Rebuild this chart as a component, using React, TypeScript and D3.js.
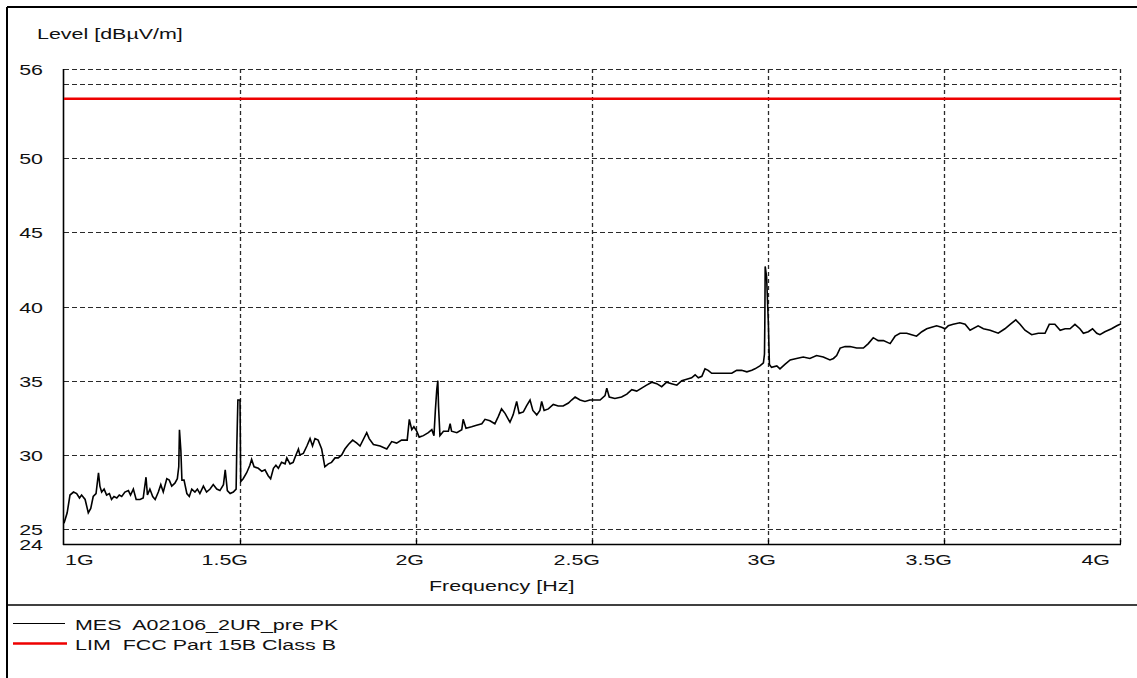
import React from "react";
import * as d3 from "d3";

// ---- data ----
const freqGHz: number[] = [
  1.000, 1.009, 1.017, 1.027, 1.036, 1.044, 1.050, 1.060, 1.069, 1.076,
  1.083, 1.091, 1.098, 1.102, 1.107, 1.114, 1.121, 1.129, 1.135, 1.142,
  1.150, 1.157, 1.164, 1.173, 1.183, 1.189, 1.197, 1.205, 1.216, 1.225,
  1.233, 1.237, 1.244, 1.252, 1.259, 1.268, 1.275, 1.282, 1.292, 1.299,
  1.306, 1.315, 1.322, 1.326, 1.328, 1.332, 1.335, 1.341, 1.349, 1.356,
  1.363, 1.372, 1.379, 1.386, 1.396, 1.405, 1.415, 1.424, 1.434, 1.443,
  1.453, 1.458, 1.464, 1.472, 1.481, 1.489, 1.491, 1.494, 1.500, 1.502,
  1.509, 1.519, 1.528, 1.533, 1.540, 1.552, 1.562, 1.571, 1.580, 1.587,
  1.595, 1.602, 1.609, 1.618, 1.628, 1.633, 1.642, 1.651, 1.659, 1.666,
  1.670, 1.680, 1.690, 1.699, 1.706, 1.713, 1.722, 1.732, 1.741, 1.751,
  1.760, 1.770, 1.779, 1.789, 1.798, 1.808, 1.820, 1.832, 1.841,
  1.860, 1.867, 1.879, 1.898, 1.917, 1.931, 1.945, 1.959, 1.975, 1.981,
  1.988, 1.994, 2.002, 2.009, 2.021, 2.035, 2.045, 2.051, 2.055, 2.059,
  2.062, 2.064, 2.068, 2.078, 2.092, 2.097, 2.101, 2.116, 2.130, 2.134,
  2.142, 2.158, 2.172, 2.187, 2.196, 2.210, 2.224, 2.234, 2.243, 2.253,
  2.267, 2.276, 2.286, 2.293, 2.305, 2.314, 2.324, 2.332, 2.343, 2.352,
  2.357, 2.364, 2.376, 2.390, 2.404, 2.418, 2.433, 2.442, 2.452, 2.466,
  2.480, 2.494, 2.509,
  2.523, 2.537, 2.542, 2.549, 2.565, 2.584, 2.599, 2.613, 2.627, 2.641,
  2.655, 2.670, 2.684, 2.698, 2.712, 2.726, 2.741, 2.755, 2.769, 2.783,
  2.793, 2.802, 2.812, 2.821, 2.830, 2.840, 2.859, 2.878, 2.897, 2.911,
  2.925, 2.940, 2.954, 2.963, 2.977, 2.987, 2.990, 2.991, 2.992, 2.996,
  3.001, 3.004, 3.010, 3.025, 3.034, 3.048, 3.063, 3.081, 3.100, 3.119,
  3.138, 3.157, 3.176, 3.186, 3.195, 3.205, 3.219,
  3.233, 3.252, 3.271, 3.285, 3.299, 3.313, 3.328, 3.347, 3.361, 3.375,
  3.394, 3.408, 3.422, 3.437, 3.451, 3.465, 3.479, 3.493, 3.503, 3.512,
  3.526, 3.545, 3.560, 3.574, 3.597, 3.612, 3.631, 3.654, 3.673, 3.688,
  3.704, 3.716, 3.730, 3.749, 3.768, 3.787, 3.799, 3.815, 3.830, 3.844,
  3.858, 3.872, 3.886, 3.896, 3.910, 3.922, 3.934, 3.943, 3.957, 3.976,
  3.991, 4.000,
];

const levelDb: number[] = [
  25.4, 26.1, 27.3, 27.5, 27.4, 27.1, 27.3, 27.0, 26.1, 26.4,
  27.2, 27.4, 28.8, 27.9, 27.5, 27.7, 27.3, 27.4, 27.0, 27.2,
  27.1, 27.3, 27.2, 27.5, 27.6, 27.3, 27.7, 27.0, 27.0, 27.1,
  28.5, 27.3, 27.7, 27.2, 27.0, 27.5, 28.0, 27.5, 28.4, 28.3,
  27.9, 28.1, 28.4, 29.2, 31.7, 30.3, 28.3, 28.3, 27.4, 27.2,
  27.7, 27.5, 27.7, 27.4, 27.9, 27.5, 27.7, 28.0, 27.7, 27.6,
  28.0, 29.0, 27.6, 27.4, 27.5, 27.7, 30.7, 33.7, 33.7, 28.2,
  28.4, 28.8, 29.3, 29.7, 29.2, 29.1, 28.9, 29.0, 28.6, 28.4,
  29.1, 29.3, 29.1, 29.5, 29.4, 29.8, 29.4, 29.5, 30.0, 30.4,
  30.0, 30.1, 30.6, 31.1, 30.6, 31.1, 31.0, 30.4, 29.2, 29.4,
  29.5, 29.8, 29.8, 30.0, 30.4, 30.7, 31.0, 30.8, 30.6,
  31.5, 31.1, 30.7, 30.6, 30.4, 30.9, 30.8, 31.0, 31.0, 32.4,
  31.7, 31.9, 31.6, 31.2, 31.3, 31.5, 31.7, 31.3, 33.0, 34.4,
  35.0, 33.3, 31.3, 31.6, 31.6, 32.1, 31.6, 31.5, 31.7, 32.4,
  31.8, 31.9, 32.0, 32.1, 32.4, 32.3, 32.1, 32.6, 33.1, 32.8,
  32.2, 32.7, 33.6, 32.8, 32.9, 33.3, 33.7, 33.0, 32.7, 33.0,
  33.6, 33.0, 33.1, 33.4, 33.3, 33.3, 33.5, 33.7, 33.9, 33.7,
  33.6, 33.7, 33.7,
  33.7, 34.0, 34.5, 33.9, 33.8, 33.9, 34.1, 34.4, 34.3, 34.5,
  34.7, 34.9, 34.8, 34.6, 34.9, 34.8, 34.7, 35.0, 35.1, 35.2,
  35.4, 35.2, 35.3, 35.8, 35.7, 35.5, 35.5, 35.5, 35.5, 35.7,
  35.7, 35.6, 35.7, 35.8, 36.0, 36.2, 36.8, 38.9, 42.7, 42.0,
  38.9, 36.1, 35.9, 36.0, 35.8, 36.1, 36.4, 36.5, 36.6, 36.5,
  36.7, 36.6, 36.4, 36.5, 36.7, 37.2, 37.3,
  37.3, 37.2, 37.2, 37.5, 37.9, 37.7, 37.7, 37.5, 38.0, 38.2,
  38.2, 38.1, 38.0, 38.3, 38.5, 38.6, 38.7, 38.6, 38.5, 38.7,
  38.8, 38.9, 38.8, 38.4, 38.7, 38.5, 38.4, 38.2, 38.5, 38.8,
  39.1, 38.8, 38.4, 38.1, 38.2, 38.2, 38.8, 38.8, 38.4, 38.5,
  38.5, 38.8, 38.5, 38.2, 38.3, 38.5, 38.2, 38.1, 38.3, 38.5,
  38.7, 38.8,
];

const limitFreqGHz: number[] = [1, 4];
const limitDb: number[] = [54, 54];

const yGridValues: number[] = [56, 55, 50, 45, 40, 35, 30, 25];
const yTickLabels: number[] = [56, 50, 45, 40, 35, 30, 25, 24];
const xTickValues: number[] = [1, 1.5, 2, 2.5, 3, 3.5, 4];
const xTickLabels: string[] = ["1G", "1.5G", "2G", "2.5G", "3G", "3.5G", "4G"];

const yTitle = "Level [dBµV/m]";
const xTitle = "Frequency [Hz]";
const legendNames: string[] = ["MES  A02106_2UR_pre PK", "LIM  FCC Part 15B Class B"];

// ---- layout ----
const W = 1137;
const H = 678;
const PL = 64, PR = 1120, PT = 69, PB = 544;
const FONT = "'Liberation Sans', Arial, sans-serif";
const FS = 15;
const SX = 1.43;
const TXT = "#111";

function T({ x, y, anchor = "start", children }: { x: number; y: number; anchor?: string; children: React.ReactNode }) {
  return (
    <text
      transform={`translate(${x},${y}) scale(${SX},1)`}
      textAnchor={anchor as any}
      fontFamily={FONT}
      fontSize={FS}
      fill={TXT}
      xmlSpace="preserve"
      style={{ whiteSpace: "pre" }}
    >
      {children}
    </text>
  );
}

export default function App() {
  const x = d3.scaleLinear().domain([1, 4]).range([PL, PR]);
  const y = d3.scaleLinear().domain([24, 56]).range([PB, PT]);

  const pts = freqGHz.map((f, i) => [f, levelDb[i]] as [number, number]);
  const line = d3
    .line<[number, number]>()
    .x((d) => x(d[0]))
    .y((d) => y(d[1]));
  const limPts = limitFreqGHz.map((f, i) => [f, limitDb[i]] as [number, number]);

  const gridColor = "#2a2a2a";

  return (
    <svg
      width={W}
      height={H}
      style={{ position: "absolute", left: 0, top: 0, background: "#fff" }}
    >
      <rect x={0} y={0} width={W} height={H} fill="#fff" />
      {/* outer frame */}
      <line x1={7} y1={7} x2={W} y2={7} stroke="#000" strokeWidth={2} />
      <line x1={7} y1={7} x2={7} y2={H} stroke="#000" strokeWidth={2} />
      <line x1={7} y1={605} x2={W} y2={605} stroke="#000" strokeWidth={1.5} />

      {/* horizontal grid */}
      {yGridValues.map((v) => (
        <line
          key={"hg" + v}
          x1={PL}
          x2={PR}
          y1={Math.round(y(v)) + 0.5}
          y2={Math.round(y(v)) + 0.5}
          stroke={gridColor}
          strokeWidth={1.2}
          strokeDasharray="5,3"
        />
      ))}
      {/* vertical grid */}
      {xTickValues.slice(1).map((v) => (
        <line
          key={"vg" + v}
          x1={Math.round(x(v)) + 0.5}
          x2={Math.round(x(v)) + 0.5}
          y1={PT}
          y2={PB}
          stroke={gridColor}
          strokeWidth={1.3}
          strokeDasharray="4,3"
        />
      ))}

      {/* axes */}
      <line x1={PL - 0.5} x2={PL - 0.5} y1={PT} y2={PB + 1} stroke="#000" strokeWidth={1.6} />
      <line x1={PL - 1} x2={PR + 1} y1={PB + 0.5} y2={PB + 0.5} stroke="#000" strokeWidth={1.6} />
      {xTickValues.slice(1).map((v) => (
        <line
          key={"xt" + v}
          x1={Math.round(x(v)) + 0.5}
          x2={Math.round(x(v)) + 0.5}
          y1={PB - 4}
          y2={PB}
          stroke="#000"
          strokeWidth={1.3}
        />
      ))}

      {/* limit line */}
      <path d={line(limPts) || ""} fill="none" stroke="#ee0000" strokeWidth={2.5} />

      {/* measurement trace */}
      <path d={line(pts) || ""} fill="none" stroke="#000" strokeWidth={1.6} strokeLinejoin="miter" />

      {/* y title */}
      <T x={37} y={39}>{yTitle}</T>

      {/* y tick labels */}
      {yTickLabels.map((v) => (
        <T key={"yl" + v} x={43} y={y(v) + 6} anchor="end">
          {String(v)}
        </T>
      ))}

      {/* x tick labels */}
      {xTickValues.map((v, i) => {
        const px = x(v);
        let anchor = "end";
        let lx = px + 8;
        if (i === 0) {
          anchor = "start";
          lx = px + 1;
        } else if (i === xTickValues.length - 1) {
          anchor = "end";
          lx = px - 10;
        }
        return (
          <T key={"xl" + v} x={lx} y={565} anchor={anchor}>
            {xTickLabels[i]}
          </T>
        );
      })}

      {/* x title */}
      <T x={429} y={591}>{xTitle}</T>

      {/* legend */}
      <line x1={13} x2={65} y1={623.5} y2={623.5} stroke="#000" strokeWidth={1.2} />
      <T x={75} y={630}>{legendNames[0]}</T>
      <line x1={13} x2={67} y1={643.5} y2={643.5} stroke="#ee0000" strokeWidth={2.5} />
      <T x={75} y={650}>{legendNames[1]}</T>
    </svg>
  );
}
